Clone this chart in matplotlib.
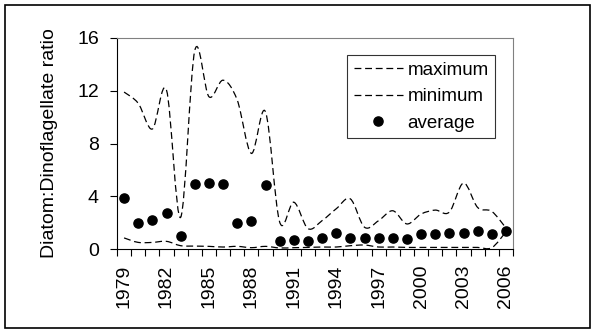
import matplotlib.pyplot as plt
from matplotlib.path import Path
from matplotlib.patches import PathPatch, Rectangle
from matplotlib.lines import Line2D

plt.rcParams['font.family'] = ['Liberation Sans', 'DejaVu Sans']

years = list(range(1979, 2007))
maximum = [11.9, 11.05, 9.1, 12.05, 2.4, 15.05, 11.55, 12.8, 11.3, 7.25, 10.4, 2.05,
           3.55, 1.55, 2.15, 3.05, 3.8, 1.65, 2.15, 2.9, 1.9, 2.65, 2.95, 2.8, 5.0,
           3.15, 2.85, 1.6]
minimum = [0.84, 0.5, 0.5, 0.58, 0.25, 0.22, 0.2, 0.15, 0.2, 0.1, 0.2, 0.08,
           0.1, 0.12, 0.15, 0.15, 0.25, 0.3, 0.15, 0.15, 0.12, 0.12, 0.12, 0.12, 0.12,
           0.12, 0.1, 1.3]
average = [3.85, 1.98, 2.23, 2.71, 0.96, 4.95, 5.03, 4.95, 1.98, 2.16, 4.88, 0.63,
           0.71, 0.6, 0.84, 1.2, 0.84, 0.84, 0.84, 0.84, 0.76, 1.14, 1.14, 1.22, 1.22,
           1.34, 1.14, 1.4]


def smooth_path(xs, ys):
    # Excel-style smoothed line: cubic Bezier through each point
    verts = [(xs[0], ys[0])]
    codes = [Path.MOVETO]
    n = len(xs)
    for i in range(n - 1):
        x0, y0 = (xs[i - 1], ys[i - 1]) if i > 0 else (xs[i], ys[i])
        x3, y3 = (xs[i + 2], ys[i + 2]) if i + 2 < n else (xs[i + 1], ys[i + 1])
        c1 = (xs[i] + (xs[i + 1] - x0) / 6, ys[i] + (ys[i + 1] - y0) / 6)
        c2 = (xs[i + 1] - (x3 - xs[i]) / 6, ys[i + 1] - (y3 - ys[i]) / 6)
        verts += [c1, c2, (xs[i + 1], ys[i + 1])]
        codes += [Path.CURVE4] * 3
    return Path(verts, codes)


fig = plt.figure(figsize=(5.91, 3.29), dpi=100)
ax = fig.add_axes([117 / 591, 80 / 329, 396 / 591, 211 / 329])

xs = list(range(len(years)))
dash = (0, (5.5, 3))
for series in (maximum, minimum):
    ax.add_patch(PathPatch(smooth_path(xs, series), facecolor='none',
                           edgecolor='black', lw=0.9, linestyle=dash))
ax.plot(xs, average, 'o', color='black', markersize=6.6, linestyle='none')

ax.set_xlim(-0.5, len(years) - 0.5)
ax.set_ylim(0, 16)
ax.set_yticks([0, 4, 8, 12, 16])
ax.set_xticks([i - 0.5 for i in range(len(years) + 1)], minor=False)
ax.set_xticklabels([])
ax.set_xticks(xs[::3], minor=True)
ax.set_xticklabels([str(y) for y in years[::3]], minor=True, rotation=90, fontsize=14)
ax.tick_params(axis='x', which='major', direction='out', length=5, width=0.8)
ax.tick_params(axis='x', which='minor', length=0, pad=11)
ax.tick_params(axis='y', direction='out', length=5, width=0.8, labelsize=14, pad=8)
ax.set_ylabel('Diatom:Dinoflagellate ratio', fontsize=14, labelpad=14)

for s in ('top', 'right'):
    ax.spines[s].set_color('#808080')
    ax.spines[s].set_linewidth(0.8)

handles = [Line2D([], [], color='black', lw=0.9, linestyle=dash),
           Line2D([], [], color='black', lw=0.9, linestyle=dash),
           Line2D([], [], color='black', marker='o', markersize=6.6, linestyle='none')]
leg = ax.legend(handles, ['maximum', 'minimum', 'average'], loc='upper right',
                bbox_to_anchor=(0.955, 0.92), fontsize=13.5, frameon=True, fancybox=False,
                edgecolor='black', handlelength=2.6, handletextpad=0.25,
                labelspacing=0.5, borderpad=0.35, borderaxespad=0)
leg.get_frame().set_linewidth(0.8)

fig.patches.append(Rectangle((5 / 591, 1 / 329), 585 / 591, 323 / 329,
                             transform=fig.transFigure, fill=False,
                             edgecolor='black', lw=1.2))

fig.savefig('out.png', dpi=100)
